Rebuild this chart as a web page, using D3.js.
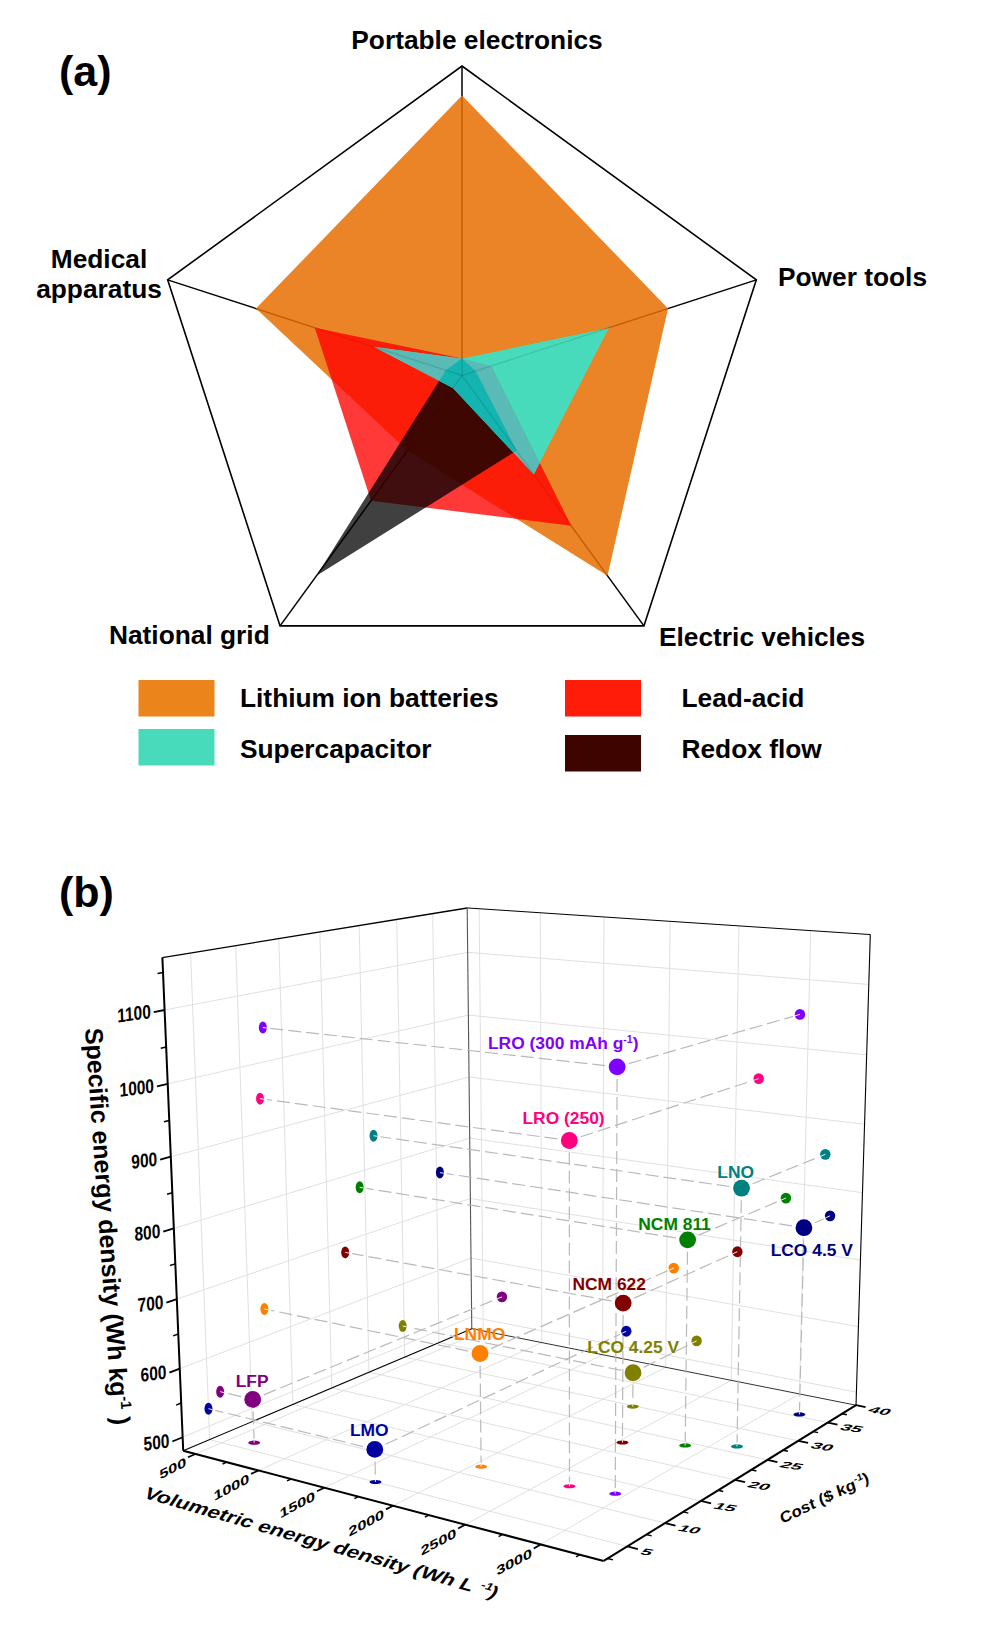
<!DOCTYPE html><html><head><meta charset="utf-8"><style>
html,body{margin:0;background:#fff}svg{display:block}text{font-family:"Liberation Sans",Arial,sans-serif;font-weight:700}
</style></head><body><svg id="c" width="1000" height="1643" viewBox="0 0 1000 1643"></svg>
<script src="https://cdn.jsdelivr.net/npm/d3@7"></script>
<script>
// ---------- panel (a) data ----------
const radarAxes=["Portable electronics","Power tools","Electric vehicles","National grid","Medical apparatus"];
const lithiumIon=[0.905,0.70,0.80,0.30,0.70];
const leadAcid=[0.055,0.10,0.60,0.50,0.50];
const supercap=[0.055,0.50,0.395,0.05,0.30];
const redoxFlow=[0.055,0.046,0.30,0.80,0.055];
const legendNames=["Lithium ion batteries","Lead-acid","Supercapacitor","Redox flow"];
// ---------- panel (b) data ----------
const materials=["LRO (300 mAh g","LRO (250)","LNO","LCO 4.5 V","NCM 811","NCM 622","LNMO","LCO 4.25 V","LFP","LMO"];
const volumetric=[2940,2660,3139,3183,2871,2529,2054,2235,664,1689];
const cost=[12.8,12.2,26.3,35.5,24.3,22.2,11.9,29.8,6.4,5.0];
const specific=[1049,949,849,759,776,683,641,532,544,526];
const xTicks=[500,1000,1500,2000,2500,3000];
const yTicks=[5,10,15,20,25,30,35,40];
const zTicks=[500,600,700,800,900,1000,1100];
const xMinor=[750,1250,1750,2250,2750,3250];
const yMinor=[2.5,7.5,12.5,17.5,22.5,27.5,32.5,37.5];
const zMinor=[550,650,750,850,950,1050,1150];

const svg=d3.select("#c");
const T=(g,x,y,s,size,anchor="start",fill="#000")=>g.append("text").attr("x",x).attr("y",y).attr("font-size",size).attr("text-anchor",anchor).attr("fill",fill).text(s);

// ---------- radar ----------
const rc={x:462,y:375.5},rScale=d3.scaleLinear([0,1],[0,309.5]);
const angle=d3.scaleLinear([0,5],[0,2*Math.PI]);
const radial=(v,i)=>{const p=d3.pointRadial(angle(i),rScale(v));return[rc.x+p[0],rc.y+p[1]]};
const poly=vals=>d3.line().curve(d3.curveLinearClosed)(vals.map(radial));
const a=svg.append("g");
a.append("path").attr("d",poly([1,1,1,1,1])).attr("fill","none").attr("stroke","#000").attr("stroke-width",1.6);
radarAxes.forEach((_,i)=>{const p=radial(1,i);a.append("line").attr("x1",rc.x).attr("y1",rc.y).attr("x2",p[0]).attr("y2",p[1]).attr("stroke","#000").attr("stroke-width",1.5)});
a.append("path").attr("d",poly(lithiumIon)).attr("fill","#e76e00").attr("fill-opacity",.85);
a.append("path").attr("d",poly(leadAcid)).attr("fill","#ff0000").attr("fill-opacity",.78);
a.append("path").attr("d",poly(redoxFlow)).attr("fill","#000").attr("fill-opacity",.75);
svg.append("clipPath").attr("id","sc").append("path").attr("d",poly(supercap));
const sc=a.append("g").attr("clip-path","url(#sc)");
sc.append("path").attr("d",poly(supercap)).attr("fill","#48dbbb");
sc.append("path").attr("d",poly(leadAcid)).attr("fill","#5abab5");
sc.append("path").attr("d",poly(redoxFlow)).attr("fill","#14b4b0");
radarAxes.forEach((_,i)=>{const p=radial(1,i);sc.append("line").attr("x1",rc.x).attr("y1",rc.y).attr("x2",p[0]).attr("y2",p[1]).attr("stroke","#000").attr("stroke-opacity",.1).attr("stroke-width",1.5)});

T(svg,59,86,"(a)",43);T(svg,59,907,"(b)",43);
T(a,477,49,radarAxes[0],26.3,"middle");
T(a,778,286,radarAxes[1],26.3);
T(a,659,646,radarAxes[2],26.3);
T(a,109,644,radarAxes[3],26.3);
T(a,99,268,"Medical",26.3,"middle");T(a,99,298,"apparatus",26.3,"middle");
const legend=[[138.5,680,"#eb841b",240,707],[565,680,"#ff1c08",681.5,707],[138.5,729,"#48dbbb",240,758],[565,735,"#3e0500",681.5,758]];
legend.forEach((l,i)=>{a.append("rect").attr("x",l[0]).attr("y",l[1]).attr("width",76).attr("height",36.5).attr("fill",l[2]);T(a,l[3],l[4],legendNames[i],26.3)});

// ---------- 3D camera (unit cube -> page pixels) ----------
const U=d3.scaleLinear([400,3400],[0,1]),V=d3.scaleLinear([2,40],[0,1]),W=d3.scaleLinear([480,1170],[0,1]);
const cam=[343.27329,372.71254,-29.04921,183.2141,-89.53633,114.8125,-541.68482,1450.80065,-0.12792,0.17835,-0.05061,1];
const P=(u,v,w)=>{const d=cam[8]*u+cam[9]*v+cam[10]*w+cam[11];return[(cam[0]*u+cam[1]*v+cam[2]*w+cam[3])/d,(cam[4]*u+cam[5]*v+cam[6]*w+cam[7])/d]};
const b=svg.append("g");
const seg=(g,p,q,col,w,dash)=>{const l=g.append("line").attr("x1",p[0]).attr("y1",p[1]).attr("x2",q[0]).attr("y2",q[1]).attr("stroke",col).attr("stroke-width",w);if(dash)l.attr("stroke-dasharray",dash);return l};
const grid="#e0e0e0";
zTicks.forEach(z=>{const w=W(z);seg(b,P(0,0,w),P(0,1,w),grid,1);seg(b,P(0,1,w),P(1,1,w),grid,1)});
yTicks.filter(y=>y<40).forEach(y=>{const v=V(y);seg(b,P(0,v,0),P(0,v,1),grid,1);seg(b,P(0,v,0),P(1,v,0),grid,1)});
xTicks.forEach(x=>{const u=U(x);seg(b,P(u,1,0),P(u,1,1),grid,1);seg(b,P(u,0,0),P(u,1,0),grid,1)});
// frame
seg(b,P(0,0,1),P(0,1,1),"#000",1.4);seg(b,P(0,1,1),P(1,1,1),"#000",1);seg(b,P(1,1,1),P(1,1,0),"#000",1.1);
seg(b,P(0,1,0),P(0,1,1),"#555",1.1);seg(b,P(0,1,0),P(1,1,0),"#333",1);seg(b,P(0,0,0),P(0,1,0),"#000",1.1);
seg(b,P(0,0,0),P(0,0,1),"#000",2);seg(b,P(0,0,0),P(1,0,0),"#000",2);seg(b,P(1,0,0),P(1,1,0),"#000",2);
// ticks
zTicks.forEach(z=>seg(b,P(0,0,W(z)),P(0,-.03,W(z)),"#000",1.8));
zMinor.forEach(z=>seg(b,P(0,0,W(z)),P(0,-.015,W(z)),"#000",1.5));
xTicks.forEach(x=>seg(b,P(U(x),0,0),P(U(x),-.022,0),"#000",1.8));
xMinor.forEach(x=>seg(b,P(U(x),0,0),P(U(x),-.012,0),"#000",1.5));
yTicks.forEach(y=>seg(b,P(1,V(y),0),P(1.022,V(y),0),"#000",1.8));
yMinor.forEach(y=>seg(b,P(1,V(y),0),P(1.011,V(y),0),"#000",1.5));
// tick labels
const TL=(p,s,tf,size,anchor)=>b.append("text").attr("transform",`translate(${p[0]},${p[1]}) ${tf}`).attr("font-size",size).attr("text-anchor",anchor).attr("dy","0.35em").text(s);
zTicks.forEach(z=>{const p=P(0,-.03,W(z));TL([p[0]-3,p[1]-1],z,"rotate(-8) skewX(-6) scale(.8,1)",19.5,"end")});
xTicks.forEach(x=>{const p=P(U(x),-.022,0);TL([p[0]-2,p[1]+4],x,"rotate(-28) skewX(-22) scale(1,.66)",18,"end")});
yTicks.forEach(y=>{const p=P(1.022,V(y),0);TL([p[0]+4,p[1]+2],y,"rotate(9) skewX(-35) scale(1.05,.52)",18,"start")});
// axis titles
const title=(x,y,tf,size,main,sup,tail)=>{const t=b.append("text").attr("transform",`translate(${x},${y}) ${tf}`).attr("font-size",size).attr("text-anchor","middle");t.append("tspan").text(main);t.append("tspan").attr("font-size",size*.6).attr("dy",-size*.38).text(sup);t.append("tspan").attr("dy",size*.38).text(tail)};
title(99,1227,"rotate(86)",25,"Specific energy density (Wh kg","-1"," )");
title(318,1548,"rotate(16) skewX(-18) scale(.96,.76)",23,"Volumetric energy density (Wh L ","-1",")");
title(826,1503,"rotate(-25.5) skewX(-8) scale(.95,.85)",18,"Cost ($ kg","-1",")");
// data
const colors=["#7f00ff","#ff007f","#008080","#000080","#008000","#800000","#ff8000","#808000","#800080","#0000a0"];
const labelAt=[[488,1049],[522.5,1124],[717.3,1178.3],[770.7,1256],[638.3,1230],[572.5,1290],[454,1340],[587.3,1352.7],[235.7,1387.3],[350,1436]];
const lineCol="#b9b9b9";
const short=(a,b,ra,rb)=>{const d=Math.hypot(b[0]-a[0],b[1]-a[1]);return[[a[0]+(b[0]-a[0])*ra/d,a[1]+(b[1]-a[1])*ra/d],[b[0]-(b[0]-a[0])*rb/d,b[1]-(b[1]-a[1])*rb/d]]};
materials.forEach((m,i)=>{
 const u=U(volumetric[i]),v=V(cost[i]),w=W(specific[i]);
 const main=P(u,v,w),pr=P(u,1,w),pl=P(0,v,w),pf=P(u,v,0);
 [[pr,7],[pl,7],[pf,4]].forEach(([q,g])=>{const s=short(main,q,12,g);seg(b,s[0],s[1],lineCol,1.2,"13,5")});
});
materials.forEach((m,i)=>{
 const u=U(volumetric[i]),v=V(cost[i]),w=W(specific[i]),c=colors[i];
 const main=P(u,v,w),pr=P(u,1,w),pl=P(0,v,w),pf=P(u,v,0);
 [[pr,5.2,5.4],[pl,4,6],[pf,6,2.1]].forEach(([q,rx,ry])=>{
  b.append("ellipse").attr("cx",q[0]).attr("cy",q[1]).attr("rx",rx).attr("ry",ry).attr("fill",c);
  const d=Math.hypot(main[0]-q[0],main[1]-q[1]);
  seg(b,q,[q[0]+(main[0]-q[0])*Math.min(rx,ry)/d,q[1]+(main[1]-q[1])*Math.min(rx,ry)/d],"#fff",.9);
 });
 b.append("circle").attr("cx",main[0]).attr("cy",main[1]).attr("r",8.4).attr("fill",c);
 const t=T(b,labelAt[i][0],labelAt[i][1],m,17.4,"start",c);
 if(i===0){t.append("tspan").attr("font-size",10.5).attr("dy",-6).text("-1");t.append("tspan").attr("dy",6).text(")")}
});
</script></body></html>
